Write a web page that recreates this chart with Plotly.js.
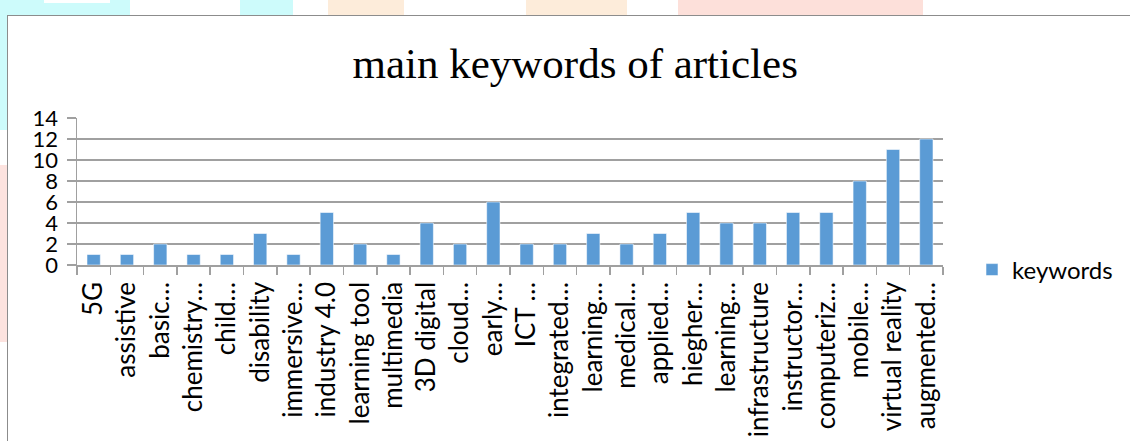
<!DOCTYPE html>
<html>
<head>
<meta charset="utf-8">
<script src="https://cdn.plot.ly/plotly-3.0.1.min.js"></script>
<style>
  html, body { margin:0; padding:0; background:#ffffff; }
  #wrap { position:relative; width:1130px; height:441px; overflow:hidden; background:#ffffff; }
  .wm { position:absolute; }
  #frame { position:absolute; left:7px; top:15px; width:1130px; height:440px; background:#ffffff;
           border-left:1.5px solid #8c8c8c; border-top:1.5px solid #8c8c8c; }
  #chart { position:absolute; left:0; top:0; width:1130px; height:441px; }
</style>
</head>
<body>
<div id="wrap">
  <div class="wm" style="left:0;top:0;width:130px;height:130px;background:#cdfbfb;"></div>
  <div class="wm" style="left:44px;top:0;width:66px;height:3px;background:#ffffff;"></div>
  <div class="wm" style="left:0;top:165px;width:8px;height:177px;background:#fde3df;"></div>
  <div class="wm" style="left:240px;top:0;width:53px;height:15px;background:#cdfbfb;"></div>
  <div class="wm" style="left:328px;top:0;width:76px;height:15px;background:#fdecda;"></div>
  <div class="wm" style="left:526px;top:0;width:101px;height:15px;background:#fdecda;"></div>
  <div class="wm" style="left:678px;top:0;width:245px;height:15px;background:#fde0da;"></div>
  <div id="frame"></div>
  <div id="chart"></div>
</div>
<script>
const categories = ["5G","assistive","basic…","chemistry…","child…","disability","immersive…",
  "industry 4.0","learning tool","multimedia","3D digital","cloud…","early…","ICT …",
  "integrated…","learning…","medical…","applied…","hiegher…","learning…\u200b","infrastructure",
  "instructor…","computeriz…","mobile…","virtual reality","augmented…"];
const keywords = [1,1,2,1,1,3,1,5,2,1,4,2,6,2,2,3,2,3,5,4,4,5,5,8,11,12];
const yTicks = [0,2,4,6,8,10,12,14];
const seriesName = "keywords";
const chartTitle = "main keywords of articles";

const fam = "Lato, 'Open Sans', sans-serif";

Plotly.newPlot("chart", [{
  type:"bar",
  x:categories,
  y:keywords,
  name:seriesName,
  marker:{color:"#5b9bd5", line:{color:"rgba(255,255,255,0.55)", width:1}},
  showlegend:true
}], {
  width:1130, height:441,
  paper_bgcolor:"rgba(0,0,0,0)",
  plot_bgcolor:"rgba(0,0,0,0)",
  margin:{l:77, r:182, t:118, b:176, pad:0},
  bargap:0.6,
  title:{text:chartTitle, font:{family:"'Liberation Serif', 'Times New Roman', serif", size:43, color:"#000000"},
         x:0.509, xanchor:"center", y:0.857, yanchor:"middle"},
  xaxis:{type:"category", tickangle:-90, tickfont:{family:fam, size:26, color:"#000000"},
         tickson:"boundaries", ticks:"outside", ticklen:8, tickcolor:"#a0a0a0", tickwidth:1.5,
         showline:true, linecolor:"#a0a0a0", linewidth:1.5, showgrid:false,
         ticklabelstandoff:5, automargin:false},
  yaxis:{range:[0,14], tickvals:yTicks, ticktext:yTicks.map(String), tickfont:{family:fam, size:22, color:"#000000"},
         ticks:"outside", ticklen:9, tickcolor:"#a0a0a0", tickwidth:1.5,
         showline:true, linecolor:"#a0a0a0", linewidth:1.5,
         showgrid:true, gridcolor:"#a0a0a0", gridwidth:1.5, zeroline:false,
         ticklabelstandoff:4, automargin:false},
  legend:{x:1.0335, xanchor:"left", y:-0.034, yanchor:"middle", font:{family:fam, size:24, color:"#000000"},
          bgcolor:"rgba(0,0,0,0)", itemwidth:30},
}, {displayModeBar:false, staticPlot:true});
</script>
</body>
</html>
